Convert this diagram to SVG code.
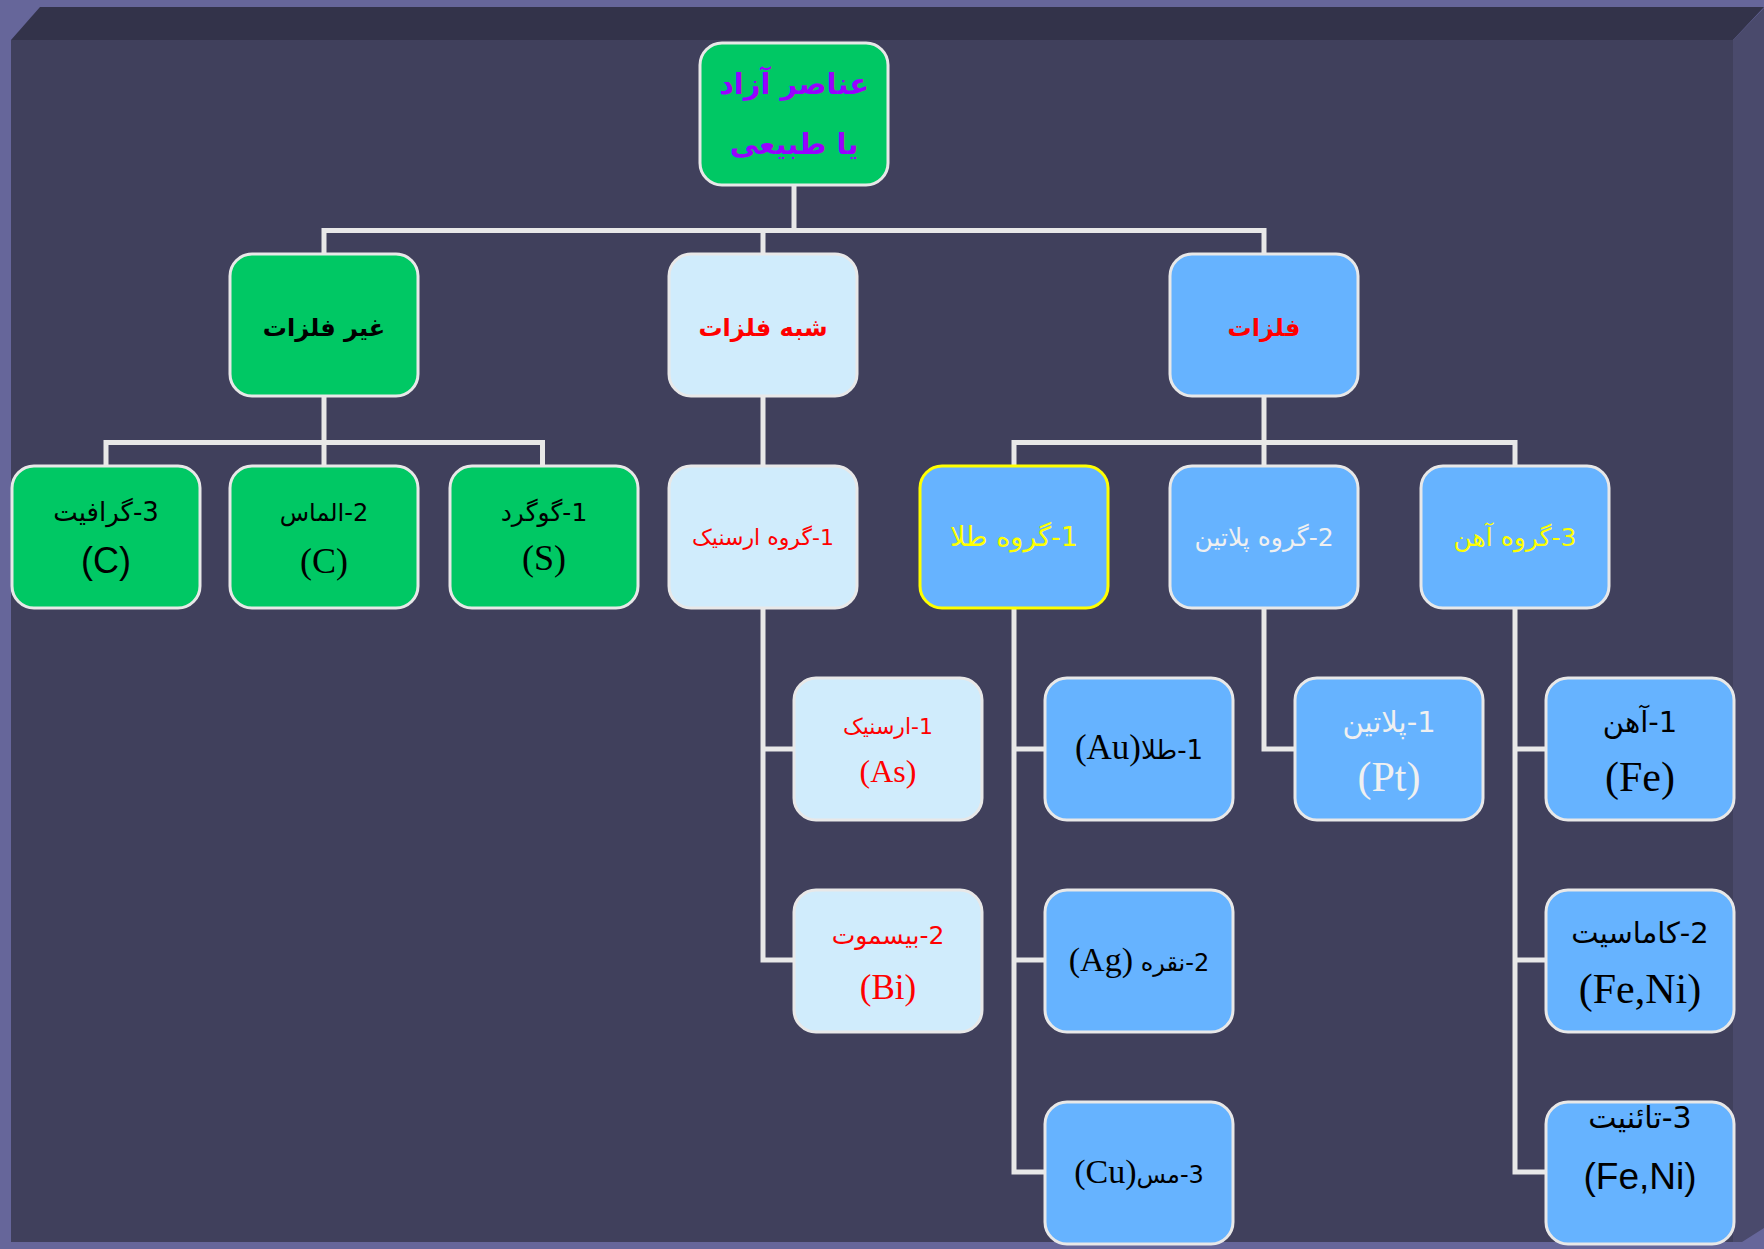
<svg xmlns="http://www.w3.org/2000/svg" width="1764" height="1249" viewBox="0 0 1764 1249">
<style>
.box{stroke:#e8e8e8;stroke-width:3}
.g{fill:#00c864}
.lb{fill:#d0ecfc}
.b{fill:#66b3ff}
.ar{font-family:"DejaVu Sans",sans-serif;text-anchor:middle;direction:rtl}
.se{font-family:"Liberation Serif","DejaVu Sans",serif;text-anchor:middle}
.sa{font-family:"Liberation Sans","DejaVu Sans",sans-serif;text-anchor:middle}
.con path{fill:none;stroke:#e8e8e8;stroke-width:5}
</style>
<rect x="0" y="0" width="1764" height="1249" fill="#66669a"/>
<rect x="11" y="40" width="1722" height="1202" fill="#40405c"/>
<polygon points="11,40 40,7 1764,7 1733,40" fill="#33334a"/>
<polygon points="1733,40 1764,8 1764,1228 1742,1242 1733,1242" fill="#4a4a6c"/>
<g class="con">
<path d="M794,185 V230.5"/>
<path d="M324,254 V230.5 H1264 V254"/>
<path d="M763,230.5 V254"/>
<path d="M324,396 V466"/>
<path d="M106,466 V442.5 H542.5 V466"/>
<path d="M763,396 V466"/>
<path d="M763,608 V960 H794"/>
<path d="M763,749 H794"/>
<path d="M1264,396 V466"/>
<path d="M1014,466 V442.5 H1515 V466"/>
<path d="M1014,608 V1172 H1045"/>
<path d="M1014,749 H1045"/>
<path d="M1014,960 H1045"/>
<path d="M1264,608 V749 H1295"/>
<path d="M1515,608 V1172 H1546"/>
<path d="M1515,749 H1546"/>
<path d="M1515,960 H1546"/>
</g>
<g id="root">
<rect class="box g" x="700" y="43" width="188" height="142" rx="22"/>
<text class="ar" x="794" y="94" font-size="29" font-weight="bold" fill="#9900ff">عناصر آزاد</text>
<text class="ar" x="794" y="154" font-size="29" font-weight="bold" fill="#9900ff">یا طبیعی</text>
</g>
<g id="nonmetals">
<rect class="box g" x="230" y="254" width="188" height="142" rx="22"/>
<text class="ar" x="324" y="336" font-size="24" font-weight="bold" fill="#000">غیر فلزات</text>
</g>
<g id="metalloids">
<rect class="box lb" x="669" y="254" width="188" height="142" rx="22"/>
<text class="ar" x="763" y="336" font-size="24" font-weight="bold" fill="#ff0000">شبه فلزات</text>
</g>
<g id="metals">
<rect class="box b" x="1170" y="254" width="188" height="142" rx="22"/>
<text class="ar" x="1264" y="336" font-size="24" font-weight="bold" fill="#ff0000">فلزات</text>
</g>
<g id="graphite">
<rect class="box g" x="12" y="466" width="188" height="142" rx="22"/>
<text class="ar" x="106" y="521" font-size="26" fill="#000">3-گرافیت</text>
<text class="sa" x="106" y="573" font-size="36" fill="#000">(C)</text>
</g>
<g id="diamond">
<rect class="box g" x="230" y="466" width="188" height="142" rx="22"/>
<text class="ar" x="324" y="521" font-size="24" fill="#000">2-الماس</text>
<text class="se" x="324" y="573" font-size="36" fill="#000">(C)</text>
</g>
<g id="sulfur">
<rect class="box g" x="450" y="466" width="188" height="142" rx="22"/>
<text class="ar" x="544" y="521" font-size="25" fill="#000">1-گوگرد</text>
<text class="se" x="544" y="570" font-size="36" fill="#000">(S)</text>
</g>
<g id="arsenic-group">
<rect class="box lb" x="669" y="466" width="188" height="142" rx="22"/>
<text class="ar" x="763" y="545" font-size="22" fill="#ff0000">1-گروه ارسنیک</text>
</g>
<g id="gold-group">
<rect x="920" y="466" width="188" height="142" rx="22" fill="#66b3ff" stroke="#ffff00" stroke-width="3"/>
<text class="ar" x="1014" y="546" font-size="27" fill="#ffff00">1-گروه طلا</text>
</g>
<g id="platinum-group">
<rect class="box b" x="1170" y="466" width="188" height="142" rx="22"/>
<text class="ar" x="1264" y="546" font-size="25" fill="#f0f0f0">2-گروه پلاتین</text>
</g>
<g id="iron-group">
<rect class="box b" x="1421" y="466" width="188" height="142" rx="22"/>
<text class="ar" x="1515" y="546" font-size="25" fill="#ffff00">3-گروه آهن</text>
</g>
<g id="arsenic">
<rect class="box lb" x="794" y="678" width="188" height="142" rx="22"/>
<text class="ar" x="888" y="734" font-size="22" fill="#ff0000">1-ارسنیک</text>
<text class="se" x="888" y="782" font-size="32" fill="#ff0000">(As)</text>
</g>
<g id="bismuth">
<rect class="box lb" x="794" y="890" width="188" height="142" rx="22"/>
<text class="ar" x="888" y="944" font-size="25" fill="#ff0000">2-بیسموت</text>
<text class="se" x="888" y="999" font-size="35" fill="#ff0000">(Bi)</text>
</g>
<g id="gold">
<rect class="box b" x="1045" y="678" width="188" height="142" rx="22"/>
<text class="ar" x="1139" y="759" font-size="26" fill="#000"><tspan>1-طلا</tspan><tspan font-family="Liberation Serif" font-size="35">(Au)</tspan></text>
</g>
<g id="silver">
<rect class="box b" x="1045" y="890" width="188" height="142" rx="22"/>
<text class="ar" x="1139" y="971" font-size="24" fill="#000"><tspan>2-نقره </tspan><tspan font-family="Liberation Serif" font-size="34">(Ag)</tspan></text>
</g>
<g id="copper">
<rect class="box b" x="1045" y="1102" width="188" height="142" rx="22"/>
<text class="ar" x="1139" y="1183" font-size="24" fill="#000"><tspan>3-مس</tspan><tspan font-family="Liberation Serif" font-size="34">(Cu)</tspan></text>
</g>
<g id="platinum">
<rect class="box b" x="1295" y="678" width="188" height="142" rx="22"/>
<text class="ar" x="1389" y="732" font-size="29" fill="#f0f0f0">1-پلاتین</text>
<text class="se" x="1389" y="791" font-size="42" fill="#f0f0f0">(Pt)</text>
</g>
<g id="iron">
<rect class="box b" x="1546" y="678" width="188" height="142" rx="22"/>
<text class="ar" x="1640" y="732" font-size="29" fill="#000">1-آهن</text>
<text class="se" x="1640" y="791" font-size="42" fill="#000">(Fe)</text>
</g>
<g id="kamacite">
<rect class="box b" x="1546" y="890" width="188" height="142" rx="22"/>
<text class="ar" x="1640" y="943" font-size="29" fill="#000">2-کاماسیت</text>
<text class="se" x="1640" y="1003" font-size="42" fill="#000">(Fe,Ni)</text>
</g>
<g id="taenite">
<rect class="box b" x="1546" y="1102" width="188" height="142" rx="22"/>
<text class="ar" x="1640" y="1128" font-size="30" fill="#000">3-تائنیت</text>
<text class="sa" x="1640" y="1189" font-size="37" fill="#000">(Fe,Ni)</text>
</g>
</svg>
